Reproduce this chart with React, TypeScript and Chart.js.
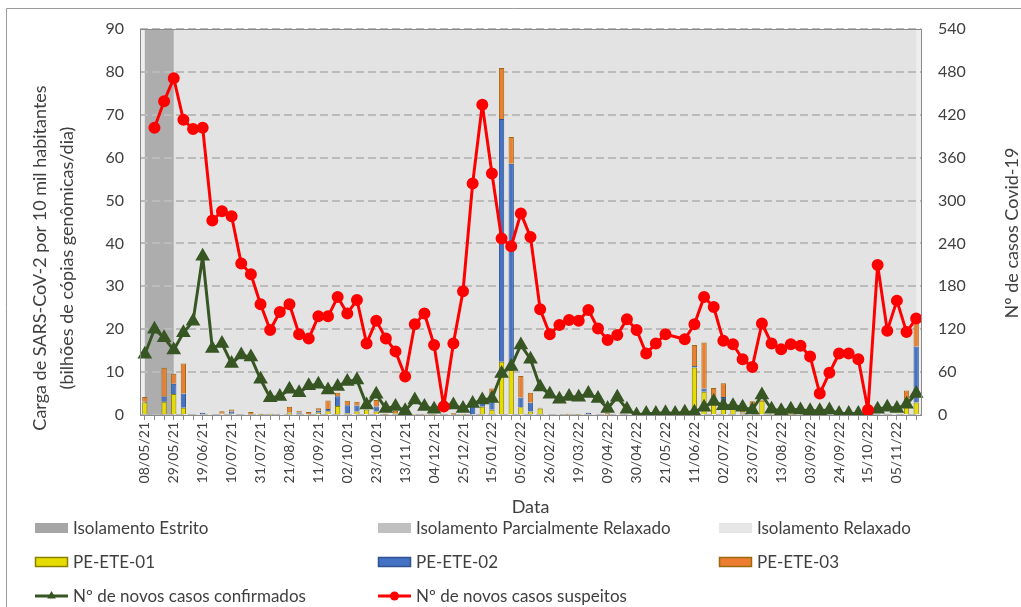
import React, { useEffect, useRef } from 'react';
import {
  Chart,
  BarController,
  LineController,
  BarElement,
  LineElement,
  PointElement,
  CategoryScale,
  LinearScale,
} from 'chart.js';

Chart.register(BarController, LineController, BarElement, LineElement, PointElement, CategoryScale, LinearScale);

const FONT = 'Lato, "Liberation Sans", sans-serif';
const TEXT = '#404040';

// Weekly sampling dates
const weeks = [
  '08/05/21', '15/05/21', '22/05/21', '29/05/21', '05/06/21', '12/06/21', '19/06/21', '26/06/21', '03/07/21', '10/07/21',
  '17/07/21', '24/07/21', '31/07/21', '07/08/21', '14/08/21', '21/08/21', '28/08/21', '04/09/21', '11/09/21', '18/09/21',
  '25/09/21', '02/10/21', '09/10/21', '16/10/21', '23/10/21', '30/10/21', '06/11/21', '13/11/21', '20/11/21', '27/11/21',
  '04/12/21', '11/12/21', '18/12/21', '25/12/21', '01/01/22', '08/01/22', '15/01/22', '22/01/22', '29/01/22', '05/02/22',
  '12/02/22', '19/02/22', '26/02/22', '05/03/22', '12/03/22', '19/03/22', '26/03/22', '02/04/22', '09/04/22', '16/04/22',
  '23/04/22', '30/04/22', '07/05/22', '14/05/22', '21/05/22', '28/05/22', '04/06/22', '11/06/22', '18/06/22', '25/06/22',
  '02/07/22', '09/07/22', '16/07/22', '23/07/22', '30/07/22', '06/08/22', '13/08/22', '20/08/22', '27/08/22', '03/09/22',
  '10/09/22', '17/09/22', '24/09/22', '01/10/22', '08/10/22', '15/10/22', '22/10/22', '29/10/22', '05/11/22', '12/11/22',
  '19/11/22',
];

// SARS-CoV-2 load (billion genomic copies/day per 10k inhabitants)
const pe01 = [
  3.0, 0, 3.1, 4.9, 1.7, 0, 0, 0, 0.3, 0.3,
  0, 0.2, 0.1, 0.1, 0, 0.6, 0.3, 0.2, 0.5, 0.9,
  2.1, 0.4, 0.8, 1.3, 0.8, 0.1, 0.4, 0, 0.1, 0.1,
  0.1, 0, 0.1, 0.1, 0.2, 1.9, 1.2, 12.4, 10.5, 1.8,
  0.8, 1.5, 0, 0, 0.1, 0.1, 0, 0, 0.1, 0,
  0, 0, 0, 0, 0, 0, 0, 11.1, 5.4, 2.5,
  1.5, 1.9, 0.4, 1.9, 3.3, 0.2, 0.1, 0.1, 0, 0,
  0, 0, 0, 0, 0, 0, 0, 0, 0.3, 3.5,
  2.9,
];
const pe02 = [
  0.1, 0, 1.2, 2.4, 3.3, 0, 0.5, 0, 0, 0.5,
  0, 0, 0, 0, 0.3, 0.1, 0.3, 0, 0.5, 0.5,
  2.3, 1.9, 1.4, 0, 1.2, 0, 0, 0, 0, 0,
  0, 0, 0, 0, 3.3, 1.7, 2.7, 56.6, 48.1, 2.3,
  2.1, 0, 0, 0.2, 0, 0, 0.5, 0, 0, 0,
  0, 0, 0, 0, 0, 0, 0, 0.3, 0.8, 0.1,
  2.7, 0.4, 0.2, 0, 0, 0, 0, 0, 0, 0,
  0, 0, 0, 0, 0, 0, 0, 0, 0, 0,
  13.1,
];
const pe03 = [
  1.1, 0, 6.7, 2.3, 7.0, 0, 0, 0, 0.6, 0.5,
  0, 0.5, 0.2, 0.2, 0, 1.2, 0.4, 0.5, 0.6, 2.0,
  0.8, 1.0, 0.9, 0, 1.5, 0.2, 0.6, 0, 0.1, 0.1,
  0.1, 0, 0.3, 0.2, 0.2, 0.5, 2.3, 11.9, 6.2, 5.0,
  2.3, 0.2, 0, 0, 0.2, 0.1, 0, 0, 0.3, 0,
  0, 0, 0, 0, 0, 0, 0, 4.9, 10.7, 3.7,
  3.2, 0.9, 0.6, 1.3, 0.2, 0.1, 0.1, 0.3, 0, 0,
  0, 0, 0, 0, 0, 0, 0, 0, 0, 2.2,
  5.8,
];

// Number of cases
const confirmed = [
  85, 120, 108, 91, 115, 131, 222, 93, 100, 72,
  84, 81, 50, 24, 26, 36, 31, 41, 43, 35,
  40, 47, 49, 14, 29, 9, 12, 6, 21, 12,
  8, 14, 14, 9, 16, 21, 23, 58, 68, 98,
  78, 39, 29, 22, 26, 25, 30, 23, 9, 25,
  8, 0, 2, 2, 3, 2, 4, 4, 11, 19,
  13, 13, 11, 7, 28, 8, 6, 8, 7, 6,
  6, 7, 2, 2, 2, 0, 8, 11, 9, 15,
  30,
];
const suspected = [
  null, 402, 439, 471, 413, 400, 402, 272, 285, 278,
  212, 197, 155, 119, 144, 155, 113, 107, 138, 138,
  165, 142, 161, 100, 132, 107, 89, 54, 127, 142,
  98, 12, 100, 173, 324, 434, 338, 247, 236, 282,
  249, 148, 113, 126, 133, 132, 147, 121, 105, 112,
  134, 119, 86, 100, 113, null, 106, 127, 165, 151,
  104, 99, 78, 67, 128, 100, 92, 99, 97, 82,
  30, 59, 86, 86, 78, 7, 210, 118, 160, 116,
  135,
];

// Isolation periods (first and last week)
const strictPeriod = ['08/05/21', '29/05/21'];
const partialPeriod: string[] = [];
const relaxedPeriod = ['29/05/21', '19/11/22'];

const leftTicks = { min: 0, max: 90, step: 10 };
const rightTicks = { min: 0, max: 540, step: 60 };

const leftTitle = ['Carga de SARS-CoV-2 por 10 mil habitantes', '(bilhões de cópias genômicas/dia)'];
const rightTitle = 'Nº de casos Covid-19';
const xTitle = 'Data';

function periodSeries(p: string[]) {
  if (p.length < 2) return weeks.map(() => null);
  const a = weeks.indexOf(p[0]);
  const b = weeks.indexOf(p[1]);
  return weeks.map((_, i) => (i >= a && i <= b ? 1 : null));
}

// Plot background + isolation bands, painted from the band datasets' own point
// elements (positioned by Chart.js) before the grid, bars and lines are drawn.
const bandsPlugin = {
  id: 'bands',
  beforeDraw(chart: any) {
    const { ctx, chartArea: a } = chart;
    ctx.save();
    ctx.fillStyle = '#EEEEEE';
    ctx.fillRect(a.left, a.top, a.right - a.left, a.bottom - a.top);
    const ds = chart.data.datasets;
    const idx = ds.map((_: any, i: number) => i).filter((i: number) => ds[i].kind === 'band').reverse();
    idx.forEach((i: number) => {
      const pts = chart.getDatasetMeta(i).data.filter((p: any) => !p.skip && isFinite(p.y));
      if (!pts.length) return;
      const x0 = Math.min(...pts.map((p: any) => p.x));
      const x1 = Math.max(...pts.map((p: any) => p.x));
      const yTop = Math.min(...pts.map((p: any) => p.y));
      ctx.fillStyle = ds[i].bandColor;
      ctx.fillRect(x0, yTop, x1 - x0, a.bottom - yTop);
    });
    ctx.restore();
  },
};

const overlay = {
  id: 'overlay',
  afterDraw(chart: any) {
    const { ctx, chartArea: a } = chart;
    ctx.save();
    // outer frame
    ctx.strokeStyle = '#9A9A9A';
    ctx.lineWidth = 1;
    ctx.beginPath();
    ctx.moveTo(6.5, chart.height);
    ctx.lineTo(6.5, 8.5);
    ctx.lineTo(chart.width, 8.5);
    ctx.stroke();
    // plot frame
    ctx.strokeStyle = '#8A8A8A';
    ctx.strokeRect(Math.round(a.left) + 0.5, Math.round(a.top) + 0.5, Math.round(a.right - a.left), Math.round(a.bottom - a.top));

    // axis titles
    ctx.fillStyle = TEXT;
    ctx.font = `18px ${FONT}`;
    ctx.textAlign = 'center';
    ctx.textBaseline = 'middle';
    ctx.save();
    ctx.translate(40, 258);
    ctx.rotate(-Math.PI / 2);
    ctx.fillText(leftTitle[0], 0, 0);
    ctx.fillText(leftTitle[1], 0, 27);
    ctx.restore();
    ctx.save();
    ctx.translate(1012, 233);
    ctx.rotate(-Math.PI / 2);
    ctx.fillText(rightTitle, 0, 0);
    ctx.restore();
    ctx.fillText(xTitle, (a.left + a.right) / 2, 507);

    // legend
    const order = [0, 1, 2, 3, 4, 5, 6, 7];
    const cols = [35, 378, 719];
    const rows = [528, 562, 596];
    const ds = chart.data.datasets;
    ctx.font = `17px ${FONT}`;
    ctx.textAlign = 'left';
    order.forEach((dsIndex, k) => {
      const d = ds[dsIndex];
      const x = cols[k % 3];
      const y = rows[Math.floor(k / 3)];
      if (d.kind === 'band') {
        ctx.fillStyle = d.legendColor;
        ctx.fillRect(x, y - 5, 33, 10);
      } else if (d.kind === 'bar') {
        ctx.fillStyle = d.backgroundColor;
        ctx.fillRect(x, y - 5, 33, 10);
        ctx.strokeStyle = d.borderColor;
        ctx.lineWidth = 1.5;
        ctx.strokeRect(x + 0.5, y - 4.5, 32, 9);
      } else {
        ctx.strokeStyle = d.borderColor;
        ctx.lineWidth = 3;
        ctx.beginPath();
        ctx.moveTo(x, y);
        ctx.lineTo(x + 33, y);
        ctx.stroke();
        ctx.fillStyle = d.pointBackgroundColor;
        ctx.beginPath();
        if (d.pointStyle === 'triangle') {
          const r = 5;
          ctx.moveTo(x + 16.5, y - r);
          ctx.lineTo(x + 16.5 + r * 0.87, y + r * 0.5);
          ctx.lineTo(x + 16.5 - r * 0.87, y + r * 0.5);
          ctx.closePath();
        } else {
          ctx.arc(x + 16.5, y, 4.5, 0, Math.PI * 2);
        }
        ctx.fill();
      }
      ctx.fillStyle = TEXT;
      ctx.fillText(d.label, x + 38, y + 1);
    });
    ctx.restore();
  },
};

export default function App() {
  const ref = useRef<HTMLCanvasElement>(null);

  useEffect(() => {
    if (!ref.current) return;
    const bandBase = { type: 'line', kind: 'band', yAxisID: 'yBg', fill: false, showLine: false, borderWidth: 0, pointRadius: 0, order: 10 };
    const chart = new Chart(ref.current, {
      type: 'bar',
      data: {
        labels: weeks,
        datasets: [
          { ...bandBase, label: 'Isolamento Estrito', legendColor: '#A6A6A6', bandColor: '#ADADAD', data: periodSeries(strictPeriod) },
          { ...bandBase, label: 'Isolamento Parcialmente Relaxado', legendColor: '#C0C0C0', bandColor: '#C0C0C0', data: periodSeries(partialPeriod) },
          { ...bandBase, label: 'Isolamento Relaxado', legendColor: '#E6E6E6', bandColor: '#E3E3E3', data: periodSeries(relaxedPeriod) },
          {
            type: 'bar', label: 'PE-ETE-01', kind: 'bar', data: pe01, yAxisID: 'y',
            backgroundColor: '#E6DC00', borderColor: '#8C8000', borderWidth: 1, order: 2,
          },
          {
            type: 'bar', label: 'PE-ETE-02', kind: 'bar', data: pe02, yAxisID: 'y',
            backgroundColor: '#4472C4', borderColor: '#2F528F', borderWidth: 1, order: 2,
          },
          {
            type: 'bar', label: 'PE-ETE-03', kind: 'bar', data: pe03, yAxisID: 'y',
            backgroundColor: '#ED7D31', borderColor: '#9A6A10', borderWidth: 1, order: 2,
          },
          {
            type: 'line', label: 'Nº de novos casos confirmados', kind: 'line', data: confirmed, yAxisID: 'y1',
            borderColor: '#375623', backgroundColor: '#375623', pointBackgroundColor: '#375623',
            pointBorderColor: '#375623', pointStyle: 'triangle', pointRadius: 5.5, borderWidth: 3,
            borderJoinStyle: 'round', fill: false, order: 1,
          },
          {
            type: 'line', label: 'Nº de novos casos suspeitos', kind: 'line', data: suspected, yAxisID: 'y1',
            borderColor: '#FF0000', backgroundColor: '#FF0000', pointBackgroundColor: '#FF0000',
            pointBorderColor: '#FF0000', pointStyle: 'circle', pointRadius: 4.5, borderWidth: 3,
            borderJoinStyle: 'round', spanGaps: true, fill: false, order: 0,
          },
        ] as any,
      },
      options: {
        animation: false,
        responsive: false,
        events: [],
        layout: { padding: { left: 8, right: 0, top: 29, bottom: 0 } },
        datasets: { bar: { barPercentage: 0.55, categoryPercentage: 1 } },
        plugins: {
          legend: { display: false },
          tooltip: { enabled: false },
        } as any,
        scales: {
          x: {
            type: 'category',
            stacked: true,
            offset: true,
            grid: { display: true, drawOnChartArea: false, drawTicks: true, tickLength: 5, color: '#8A8A8A', offset: false },
            border: { display: false },
            ticks: {
              autoSkip: false,
              minRotation: 90,
              maxRotation: 90,
              padding: 2,
              color: TEXT,
              font: { family: FONT, size: 14 },
              callback: (_v: any, i: number) => (i % 3 === 0 ? weeks[i] : ''),
            },
            afterFit: (s: any) => { s.height = 192; },
          },
          y: {
            type: 'linear',
            position: 'left',
            stacked: true,
            min: leftTicks.min,
            max: leftTicks.max,
            ticks: { stepSize: leftTicks.step, padding: 16, color: TEXT, font: { family: FONT, size: 16 } },
            grid: { drawTicks: false, drawOnChartArea: true, color: '#BBBBBB', lineWidth: 2 },
            border: { display: false, dash: [8, 4] },
            afterFit: (s: any) => { s.width = 132; },
          },
          y1: {
            type: 'linear',
            position: 'right',
            min: rightTicks.min,
            max: rightTicks.max,
            ticks: { stepSize: rightTicks.step, padding: 17, color: TEXT, font: { family: FONT, size: 16 } },
            grid: { drawOnChartArea: false, drawTicks: false },
            border: { display: false },
            afterFit: (s: any) => { s.width = 100; },
          },
          yBg: { type: 'linear', display: false, min: 0, max: 1 },
        },
      } as any,
      plugins: [bandsPlugin, overlay],
    });
    return () => chart.destroy();
  }, []);

  return (
    <div style={{ position: 'fixed', left: 0, top: 0, width: 1021, height: 607, background: '#fff' }}>
      <canvas ref={ref} width={1021} height={607} style={{ display: 'block' }} />
    </div>
  );
}
